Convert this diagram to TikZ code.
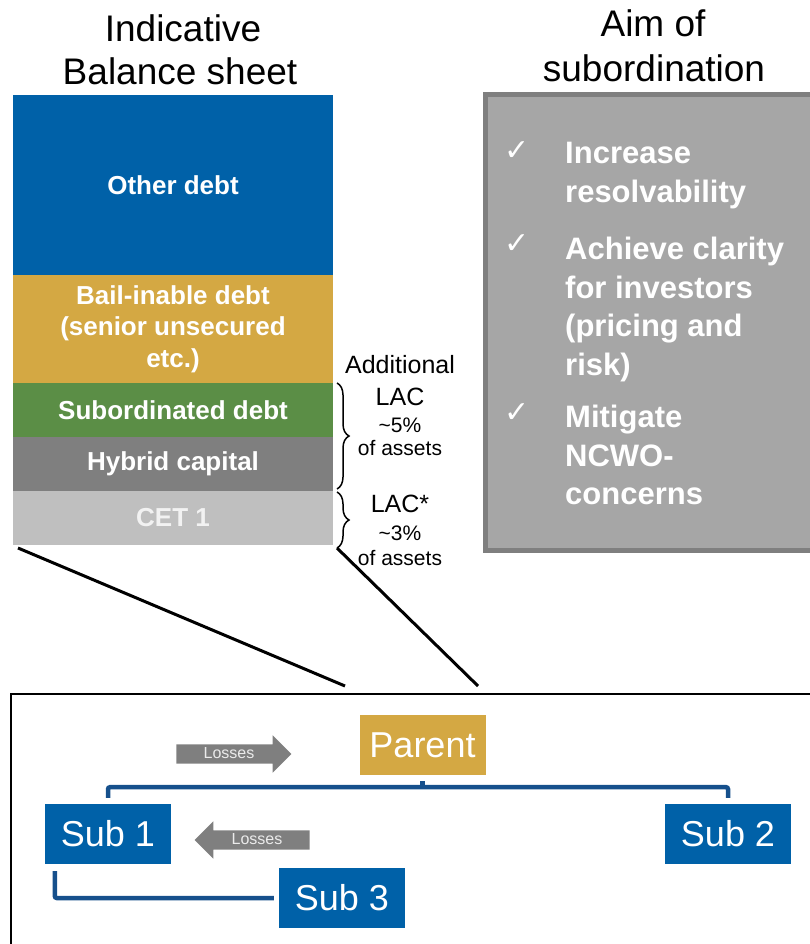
\documentclass[tikz,border=0pt]{standalone}
\usepackage{fontspec}
\setmainfont{Liberation Sans}
\newfontfamily\tickfont{DejaVu Sans}
\usepackage{xcolor}
\usepackage{tikz}
\usetikzlibrary{positioning, shapes.arrows, calc, decorations.pathreplacing}

\definecolor{sheetblue}{HTML}{0061A8}
\definecolor{sheetgold}{HTML}{D4A843}
\definecolor{sheetgreen}{HTML}{5B8E46}
\definecolor{sheetgrey}{HTML}{7F7F7F}
\definecolor{sheetlight}{HTML}{BFBFBF}
\definecolor{panelgrey}{HTML}{A6A6A6}
\definecolor{treeblue}{HTML}{16508C}

\newcommand{\fsz}[2]{\fontsize{#1}{#2}\selectfont}

\begin{document}
\begin{tikzpicture}[
    x=1pt, y=-1pt,
    sheet/.style={rectangle, minimum width=320pt, inner sep=0pt, outer sep=0pt, text=white, font=\fsz{26}{31.5}\bfseries, align=center},
    title/.style={font=\fsz{37}{43}, anchor=base, inner sep=0pt},
    note/.style={font=\fsz{25}{30}, anchor=base, inner sep=0pt},
    small/.style={font=\fsz{21}{25}, anchor=base, inner sep=0pt},
    entity/.style={rectangle, minimum width=126pt, minimum height=60pt, inner sep=0pt, text=white, font=\fsz{36}{40}},
    tree/.style={treeblue, line width=4.5pt, rounded corners=2pt},
    losses/.style={single arrow, fill=sheetgrey, text=white!92!black, font=\fsz{16}{18}, single arrow head extend=9pt, minimum height=115pt, minimum width=36pt, text height=11pt, text depth=3pt, inner ysep=2.5pt, inner xsep=0pt},
    lacbrace/.style={decorate, decoration={brace, amplitude=12pt}, line width=1.5pt},
    zoomline/.style={line width=3pt},
    aimtext/.style={font=\fsz{31}{38.5}\bfseries, text=white, align=left, anchor=north west, inner sep=0pt},
    tick/.style={font=\tickfont\fsz{30}{32}, text=white, inner sep=0pt}
]
    \useasboundingbox (0,0) rectangle (810,944);

    % Titles
    \node[title] (bstitle1) at (183,42) {Indicative};
    \node[title] (bstitle2) at (180,85) {Balance sheet};
    \node[title] (aimtitle1) at (653,37) {Aim of};
    \node[title] (aimtitle2) at (654,82) {subordination};

    % Balance sheet - stacked blocks
    \node[sheet, fill=sheetblue, minimum height=180pt] (other) at (173,185) {Other debt};
    \node[sheet, fill=sheetgold, minimum height=108pt, below=0pt of other] (bail) {Bail-inable debt\\(senior unsecured\\etc.)};
    \node[sheet, fill=sheetgreen, minimum height=54pt, below=0pt of bail] (subdebt) {Subordinated debt};
    \node[sheet, fill=sheetgrey, minimum height=54pt, below=0pt of subdebt] (hybrid) {Hybrid capital};
    \node[sheet, fill=sheetlight, text=white!95!black, minimum height=54pt, below=0pt of hybrid] (cet) {CET 1};

    % Braces and LAC notes
    \draw[lacbrace] ([xshift=4pt]subdebt.north east) -- ([xshift=4pt, yshift=2pt]hybrid.south east);
    \draw[lacbrace] ([xshift=4pt, yshift=-1pt]cet.north east) -- ([xshift=4pt, yshift=-3pt]cet.south east);
    \node[note] (addl) at (400,373) {Additional};
    \node[note] (lac1) at (400,405) {LAC};
    \node[small] (pct1) at (400,432) {\textasciitilde5\%};
    \node[small] (assets1) at (400,455) {of assets};
    \node[note] (lac2) at (400,512) {LAC*};
    \node[small] (pct2) at (400,540) {\textasciitilde3\%};
    \node[small] (assets2) at (400,565) {of assets};

    % Aim panel
    \node[draw=sheetgrey, line width=5pt, fill=panelgrey, minimum width=330pt, minimum height=455pt, inner sep=0pt] (aim) at (650.5,322.5) {};
    \node[tick] (tick1) at (517,151) {✓};
    \node[tick] (tick2) at (517,244) {✓};
    \node[tick] (tick3) at (517,413) {✓};
    \node[aimtext] (aim1) at (565,142) {Increase\\resolvability};
    \node[aimtext] (aim2) at (565,237) {Achieve clarity\\for investors\\(pricing and\\risk)};
    \node[aimtext] (aim3) at (565,405) {Mitigate\\NCWO-\\concerns};

    % Zoom lines and group frame
    \coordinate (zoomA) at (345,686);
    \coordinate (zoomB) at (478,686);
    \draw[zoomline] ([xshift=5pt, yshift=-3pt]cet.south west) -- (zoomA);
    \draw[zoomline] ([xshift=4pt, yshift=-3pt]cet.south east) -- (zoomB);
    \draw[line width=2pt] (11,694) rectangle (816,950);

    % Group structure
    \node[entity, fill=sheetgold] (parent) at (422.5,745) {Parent};
    \node[entity, fill=sheetblue] (sub1) at (108,834) {Sub 1};
    \node[entity, fill=sheetblue] (sub2) at (728,834) {Sub 2};
    \node[entity, fill=sheetblue] (sub3) at (342,898) {Sub 3};
    \coordinate (bus) at ($(parent.south)+(0,12)$);
    \draw[tree] ([yshift=-6pt]parent.south) -- (bus);
    \draw[tree] ([yshift=6pt]sub1.north) |- (bus) -| ([yshift=6pt]sub2.north);
    \draw[tree] ([xshift=10pt, yshift=-7pt]sub1.south west) |- ([xshift=-5pt]sub3.west);

    % Loss arrows
    \node[losses] (loss1) at (229,754) {Losses};
    \node[losses, shape border rotate=180] (loss2) at (257,840) {Losses};

\end{tikzpicture}
\end{document}
